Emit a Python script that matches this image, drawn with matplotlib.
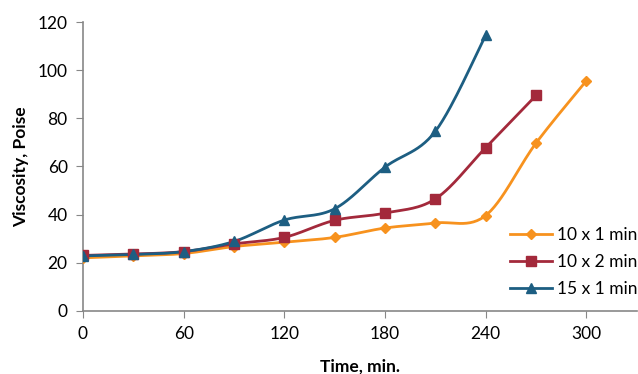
import numpy as np
import matplotlib
matplotlib.use("Agg")
import matplotlib.pyplot as plt

plt.rcParams['font.family'] = ['Lato', 'DejaVu Sans']

# data
time_a = [0, 30, 60, 90, 120, 150, 180, 210, 240, 270, 300]
visc_a = [22, 22.8, 23.8, 26.7, 28.5, 30.5, 34.4, 36.5, 39.6, 69.7, 95.6]
time_b = [0, 30, 60, 90, 120, 150, 180, 210, 240, 270]
visc_b = [23, 23.6, 24.6, 27.8, 30.5, 37.6, 40.6, 46.5, 67.8, 89.5]
time_c = [0, 30, 60, 90, 120, 150, 180, 210, 240]
visc_c = [22.8, 23.4, 24.6, 28.8, 37.7, 42.4, 59.7, 74.6, 114.5]
labels = ['10 x 1 min', '10 x 2 min', '15 x 1 min']

colors = ['#F7921E', '#A3293B', '#1D5E82']
markers = ['D', 's', '^']
msizes = [5, 7, 7]


def smooth(x, y, n=30):
    # Excel-like smoothed line (bezier through points)
    x = np.asarray(x, float)
    y = np.asarray(y, float)
    px = np.concatenate([[x[0]], x, [x[-1]]])
    py = np.concatenate([[y[0]], y, [y[-1]]])
    xs, ys = [], []
    t = np.linspace(0, 1, n)
    for i in range(1, len(px) - 2):
        p0 = np.array([px[i], py[i]])
        p3 = np.array([px[i + 1], py[i + 1]])
        p1 = p0 + (np.array([px[i + 1], py[i + 1]]) - np.array([px[i - 1], py[i - 1]])) / 6
        p2 = p3 - (np.array([px[i + 2], py[i + 2]]) - np.array([px[i], py[i]])) / 6
        b = ((1 - t) ** 3)[:, None] * p0 + (3 * (1 - t) ** 2 * t)[:, None] * p1 \
            + (3 * (1 - t) * t ** 2)[:, None] * p2 + (t ** 3)[:, None] * p3
        xs.extend(b[:, 0])
        ys.extend(b[:, 1])
    return xs, ys


fig = plt.figure(figsize=(6.38, 3.74), dpi=100)
ax = fig.add_axes([0.130, 0.169, 0.868, 0.772])

series = [(time_a, visc_a), (time_b, visc_b), (time_c, visc_c)]
for (x, y), lab, c, m, ms in zip(series, labels, colors, markers, msizes):
    sx, sy = smooth(x, y)
    ax.plot(sx, sy, color=c, lw=2, zorder=2)
    ax.plot(x, y, ls='none', marker=m, color=c, ms=ms, zorder=3)
    ax.plot([], [], color=c, lw=2, marker=m, ms=ms, label=lab)

ax.set_xlim(0, 330)
ax.set_ylim(0, 120)
ax.set_xticks(range(0, 301, 60))
ax.set_yticks(range(0, 121, 20))

for s in ['top', 'right']:
    ax.spines[s].set_visible(False)
for s in ['left', 'bottom']:
    ax.spines[s].set_color('#878787')
    ax.spines[s].set_linewidth(1.2)
ax.tick_params(direction='out', length=5, color='#878787', labelsize=12.5,
               labelcolor='black', pad=6)

ax.set_xlabel('Time, min.', fontsize=12.5, fontweight='bold', labelpad=12)
ax.set_ylabel('Viscosity, Poise', fontsize=12.5, fontweight='bold', labelpad=6)

leg = ax.legend(loc='lower right', bbox_to_anchor=(1.03, -0.005), frameon=False,
                fontsize=12.5, handlelength=2.4, labelspacing=0.62,
                handletextpad=0.3)

fig.savefig('out.png', dpi=100)
